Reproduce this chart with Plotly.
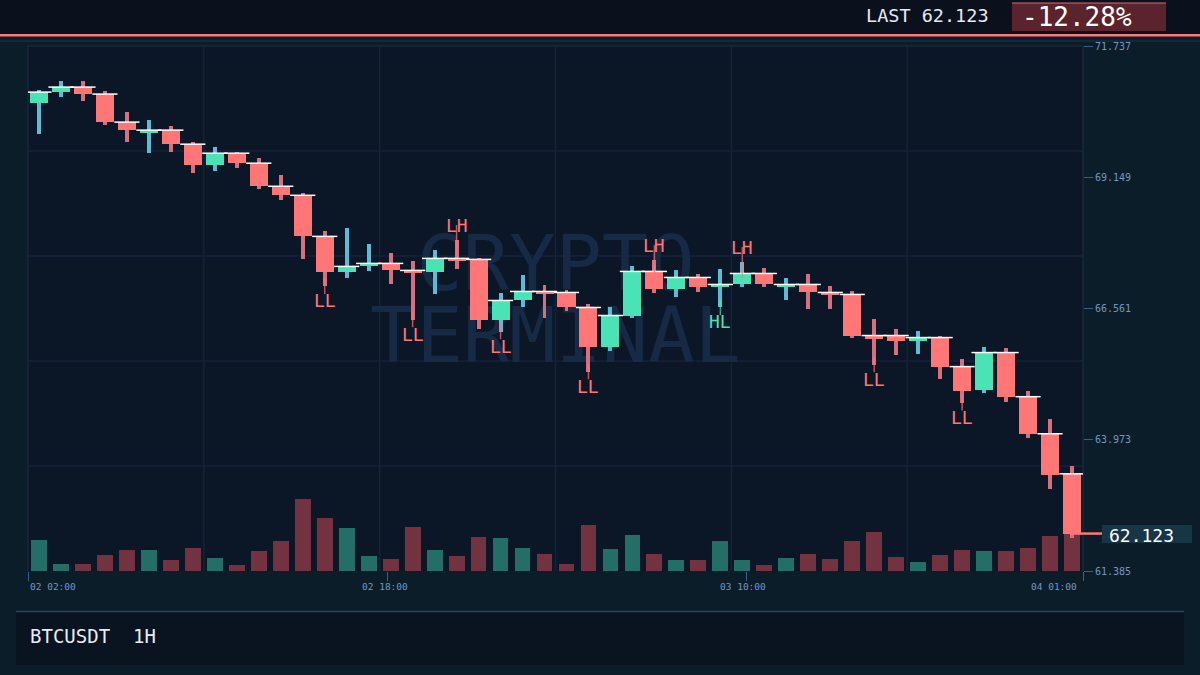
import plotly.graph_objects as go

# ---------------- data ----------------
opens = [70.611, 70.828, 70.927, 70.789, 70.236, 70.018, 70.078, 69.801, 69.386, 69.623,
         69.426, 68.971, 68.793, 67.983, 67.272, 67.391, 67.450, 67.312, 67.272, 67.549,
         67.529, 66.344, 66.719, 66.897, 66.877, 66.581, 65.810, 66.423, 67.292, 66.936,
         67.173, 66.976, 67.035, 67.252, 66.976, 67.035, 66.877, 66.838, 66.028, 66.028,
         65.929, 65.988, 65.415, 64.961, 65.692, 64.822, 64.091, 63.301]
highs = [70.868, 71.046, 71.046, 70.848, 70.433, 70.275, 70.157, 69.840, 69.742, 69.643,
         69.524, 69.189, 68.833, 68.082, 68.141, 67.825, 67.648, 67.490, 67.707, 67.904,
         67.549, 66.857, 67.213, 67.015, 66.917, 66.640, 66.600, 67.391, 67.509, 67.312,
         67.233, 67.331, 67.470, 67.351, 67.154, 67.233, 66.996, 66.897, 66.363, 66.166,
         66.126, 66.028, 65.573, 65.810, 65.790, 64.941, 64.388, 63.459]
lows = [69.998, 70.729, 70.650, 70.176, 69.840, 69.623, 69.643, 69.228, 69.268, 69.327,
        68.912, 68.695, 67.529, 66.996, 67.154, 67.292, 67.035, 66.344, 66.838, 67.331,
        66.166, 66.107, 66.581, 66.383, 66.502, 65.316, 65.731, 66.383, 66.857, 66.778,
        66.877, 66.581, 66.976, 66.976, 66.719, 66.561, 66.561, 65.988, 65.455, 65.652,
        65.672, 65.178, 64.704, 64.901, 64.724, 64.012, 63.005, 62.037]
closes = [70.828, 70.927, 70.789, 70.236, 70.078, 70.078, 69.801, 69.386, 69.623, 69.426,
          68.971, 68.793, 67.983, 67.272, 67.391, 67.450, 67.312, 67.252, 67.549, 67.490,
          66.344, 66.719, 66.897, 66.838, 66.581, 65.810, 66.423, 67.292, 66.936, 67.173,
          66.976, 67.035, 67.252, 67.035, 67.035, 66.877, 66.818, 66.028, 65.968, 65.929,
          65.988, 65.415, 64.941, 65.692, 64.822, 64.091, 63.281, 62.123]
volumes = [620, 140, 140, 320, 420, 420, 220, 460, 260, 120,
           400, 600, 1440, 1060, 860, 300, 240, 880, 420, 300,
           680, 660, 460, 340, 140, 920, 440, 720, 340, 220,
           220, 600, 220, 120, 260, 340, 240, 600, 780, 280,
           180, 320, 420, 400, 400, 460, 700, 800]
swing_index = [13, 17, 19, 21, 25, 28, 31, 32, 38, 42]
swing_text = ["LL", "LL", "LH", "LL", "LL", "LH", "HL", "LH", "LL", "LL"]
x_tick_hours = [0, 16, 32, 47]
x_tick_labels = ["02 02:00", "02 18:00", "03 10:00", "04 01:00"]
y_tick_values = [61.385, 63.973, 66.561, 69.149, 71.737]
symbol_text = "BTCUSDT  1H"
change_text = "-12.28%"
watermark_lines = ["CRYPTO", "TERMINAL"]

# ---------------- style ----------------
MONO = "DejaVu Sans Mono"
UP_BODY, DN_BODY = "#4ae3b5", "#ff7676"
UP_WICK, DN_WICK = "#5cbcd8", "#d6707f"
UP_VOL, DN_VOL = "#236e66", "#72323f"
GRID = "#152238"
TICK_COL = "#3c5f88"
TICK_TXT = "#7696c0"

W, H = 1200, 675
L, R, T, B = 28, 1083, 46, 571


def px2x(px):
    return (px - L) / (R - L)


def px2y(py):
    return (B - py) / (B - T)


n = len(closes)
idx = list(range(n))
up = [c >= o for o, c in zip(opens, closes)]

fig = go.Figure()

# watermark (base subplot, drawn beneath the candles)
fig.add_trace(go.Scatter(
    x=[23.5, 23.5], y=[0.571, 0.434], mode="text", text=watermark_lines,
    textfont=dict(family=MONO, size=77, color="#172a45"),
    xaxis="x", yaxis="y", hoverinfo="skip", showlegend=False))

# volume
fig.add_trace(go.Bar(
    x=idx, y=volumes, width=0.72,
    marker=dict(color=[UP_VOL if u else DN_VOL for u in up], line=dict(width=0)),
    xaxis="x2", yaxis="y2", hoverinfo="skip", showlegend=False))

# wicks
fig.add_trace(go.Bar(
    x=idx, base=lows, y=[h - l for h, l in zip(highs, lows)], width=0.18,
    marker=dict(color=[UP_WICK if u else DN_WICK for u in up], line=dict(width=0)),
    xaxis="x2", yaxis="y3", hoverinfo="skip", showlegend=False))

# bodies
fig.add_trace(go.Bar(
    x=idx, base=[min(o, c) for o, c in zip(opens, closes)],
    y=[abs(c - o) for o, c in zip(opens, closes)], width=0.82,
    marker=dict(color=[UP_BODY if u else DN_BODY for u in up], line=dict(width=0)),
    xaxis="x2", yaxis="y3", hoverinfo="skip", showlegend=False))

# highlight on body tops
fig.add_trace(go.Scatter(
    x=idx, y=[max(o, c) for o, c in zip(opens, closes)], mode="markers",
    marker=dict(symbol="line-ew", size=18, line=dict(width=1.5, color="#ffffff")),
    xaxis="x2", yaxis="y3", hoverinfo="skip", showlegend=False))

# swing label connectors
con_x, con_y, con_size, con_col = [], [], [], []
for i, t in zip(swing_index, swing_text):
    col = UP_BODY if t == "HL" else DN_BODY
    above = t in ("LH", "HH")
    con_x.append(i)
    con_y.append(highs[i] if above else lows[i])
    con_size.append(22 if above else 11)
    con_col.append(col)
fig.add_trace(go.Scatter(
    x=con_x, y=con_y, mode="markers",
    marker=dict(symbol="line-ns", size=con_size, line=dict(width=1.5, color=con_col)),
    xaxis="x2", yaxis="y3", hoverinfo="skip", showlegend=False))

annotations = []
for i, t in zip(swing_index, swing_text):
    col = UP_BODY if t == "HL" else DN_BODY
    above = t in ("LH", "HH")
    annotations.append(dict(
        x=i, y=highs[i] if above else lows[i], xref="x2", yref="y3",
        text=t, showarrow=False, font=dict(family=MONO, size=18, color=col),
        yanchor="bottom" if above else "top", yshift=2 if above else -2))

# x tick labels
anchors = ["left", "center", "center", "right"]
shifts = [0, -2, -3, -4]
for hv, lab, an, sh in zip(x_tick_hours, x_tick_labels, anchors, shifts):
    annotations.append(dict(
        x=hv, y=px2y(586), xref="x", yref="paper", text=lab, showarrow=False,
        xanchor=an, yanchor="middle", xshift=sh,
        font=dict(family=MONO, size=9.5, color=TICK_TXT)))

last_price = closes[-1]
annotations += [
    dict(x=px2x(864), y=px2y(15), xref="paper", yref="paper", text=f"LAST {last_price:.3f}",
         showarrow=False, xanchor="left", yanchor="middle",
         font=dict(family=MONO, size=18.5, color="#e4ebf3")),
    dict(x=px2x(1077), y=px2y(17), xref="paper", yref="paper", text=change_text,
         showarrow=False, xanchor="center", yanchor="middle",
         font=dict(family=MONO, size=26, color="#ffffff")),
    dict(x=px2x(1141), y=last_price, xref="paper", yref="y3", text=f"{last_price:.3f}",
         showarrow=False, xanchor="center", yanchor="middle", yshift=-2,
         font=dict(family=MONO, size=18, color="#ffffff")),
    dict(x=px2x(28), y=px2y(636), xref="paper", yref="paper", text=symbol_text,
         showarrow=False, xanchor="left", yanchor="middle",
         font=dict(family=MONO, size=19, color="#e6edf5")),
]

shapes = []
# header
shapes.append(dict(type="rect", xref="paper", yref="paper", x0=px2x(0), x1=px2x(W),
                   y0=px2y(0), y1=px2y(34), fillcolor="#0a111d", line=dict(width=0), layer="below"))
shapes.append(dict(type="rect", xref="paper", yref="paper", x0=px2x(0), x1=px2x(W),
                   y0=px2y(34), y1=px2y(36.5), fillcolor="#ff7878", line=dict(width=0)))
shapes.append(dict(type="rect", xref="paper", yref="paper", x0=px2x(0), x1=px2x(W),
                   y0=px2y(40), y1=px2y(42), fillcolor="#12283b", line=dict(width=0), layer="below"))
# grid
for k in range(1, 6):
    shapes.append(dict(type="line", xref="x domain", yref="y domain", x0=k / 6, x1=k / 6,
                       y0=0, y1=1, line=dict(color=GRID, width=1.5), layer="below"))
for k in range(1, 5):
    shapes.append(dict(type="line", xref="x domain", yref="y domain", x0=0, x1=1,
                       y0=k / 5, y1=k / 5, line=dict(color=GRID, width=1.5), layer="below"))
# plot frame lines (top, left, right)
for (a, b, c, d) in [(0, 1, 1, 1), (0, 0, 0, 1), (1, 1, 0, 1)]:
    shapes.append(dict(type="line", xref="x domain", yref="y domain", x0=a, x1=b, y0=c, y1=d,
                       line=dict(color="#17283d", width=1.5), layer="below"))
# change box
shapes.append(dict(type="rect", xref="paper", yref="paper", x0=px2x(1012), x1=px2x(1166),
                   y0=px2y(3), y1=px2y(31), fillcolor="#5b232b", line=dict(width=0)))
shapes.append(dict(type="line", xref="paper", yref="paper", x0=px2x(1012), x1=px2x(1166),
                   y0=px2y(3), y1=px2y(3), line=dict(color="#d86a70", width=1)))
# last price line + label box
shapes.append(dict(type="line", xref="paper", yref="y3", x0=px2x(1070), x1=px2x(1102),
                   y0=last_price, y1=last_price, line=dict(color=DN_BODY, width=2.5)))
shapes.append(dict(type="rect", xref="paper", yref="paper", x0=px2x(1102), x1=px2x(1192),
                   y0=px2y(525), y1=px2y(543), fillcolor="#163545", line=dict(width=0)))
# bottom panel
shapes.append(dict(type="rect", xref="paper", yref="paper", x0=px2x(16), x1=px2x(1184),
                   y0=px2y(665), y1=px2y(612), fillcolor="#0a1320", line=dict(width=0)))
shapes.append(dict(type="line", xref="paper", yref="paper", x0=px2x(16), x1=px2x(1184),
                   y0=px2y(611.5), y1=px2y(611.5), line=dict(color="#24466a", width=1.5)))

vmax = max(volumes)
fig.update_layout(
    width=W, height=H,
    margin=dict(l=L, r=W - R, t=T, b=H - B, pad=0),
    paper_bgcolor="#0b1d29", plot_bgcolor="#0b1626",
    barmode="overlay", bargap=0, showlegend=False,
    font=dict(family=MONO),
    xaxis=dict(range=[0, n - 1], tickvals=x_tick_hours, ticks="outside", ticklen=9,
               tickwidth=1, tickcolor=TICK_COL, showticklabels=False, showgrid=False,
               zeroline=False, showline=False, fixedrange=True),
    yaxis=dict(range=[0, 1], showgrid=False, zeroline=False, showticklabels=False,
               ticks="", showline=False, fixedrange=True),
    xaxis2=dict(range=[-0.5, n - 0.5], overlaying="x", anchor="y", visible=False),
    yaxis2=dict(range=[0, vmax * (B - T) / 72], overlaying="y", anchor="x", visible=False),
    yaxis3=dict(range=[y_tick_values[0], y_tick_values[-1]], overlaying="y", anchor="x",
                side="right", tickvals=y_tick_values, tickformat=".3f",
                ticks="outside", ticklen=9, tickwidth=1, tickcolor=TICK_COL,
                tickfont=dict(family=MONO, size=10, color=TICK_TXT),
                showgrid=False, zeroline=False, showline=False),
    annotations=annotations, shapes=shapes,
)

fig.write_html("out.html", config={"displayModeBar": False})
